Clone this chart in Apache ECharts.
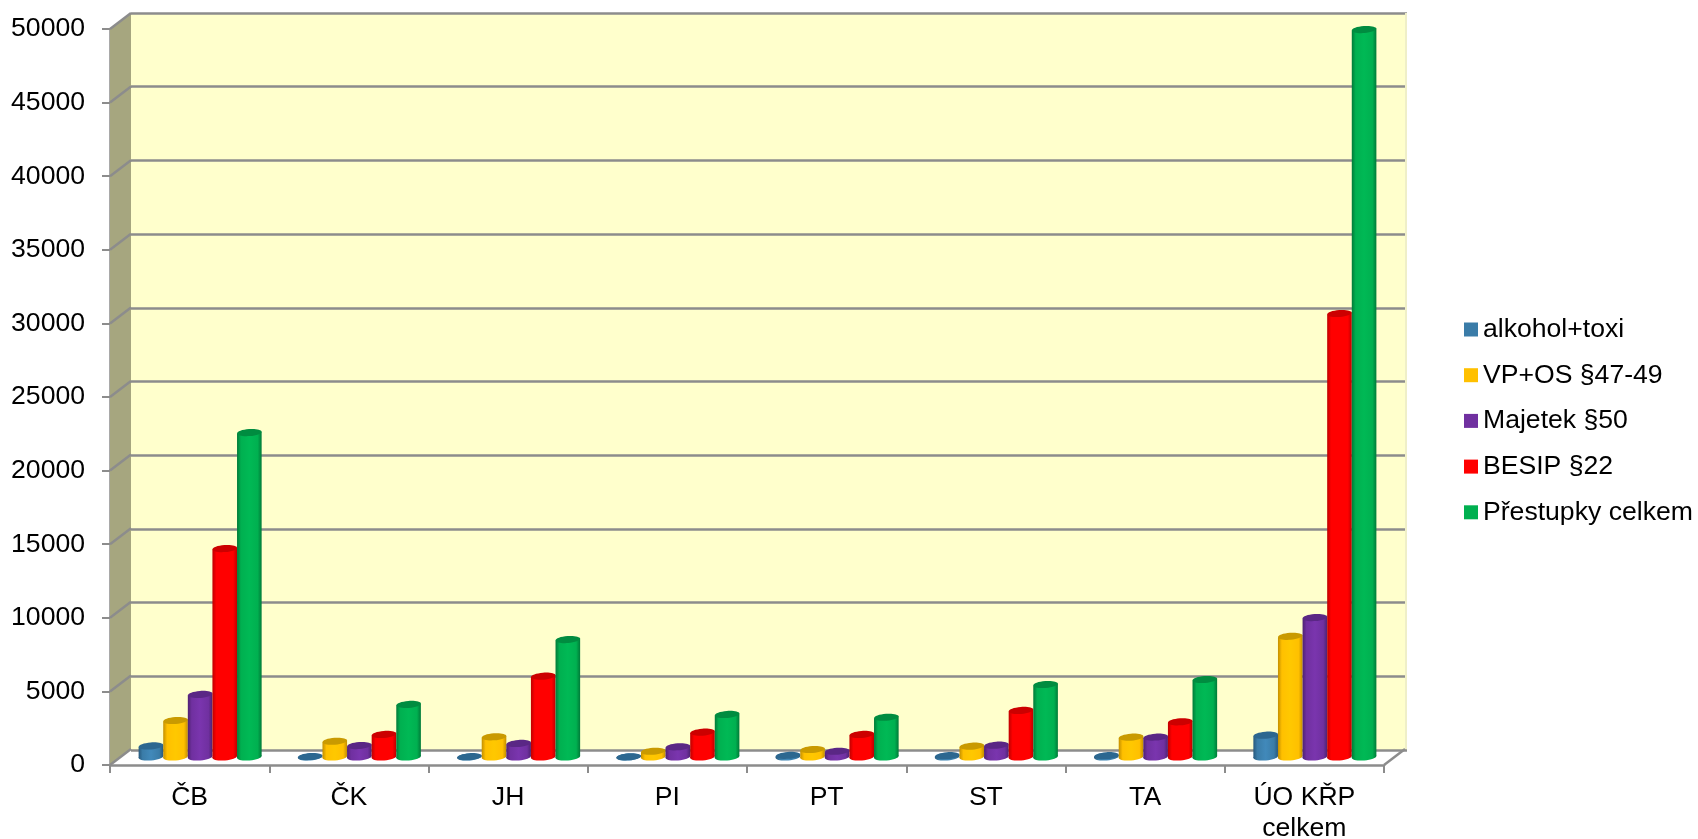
<!DOCTYPE html>
<html><head><meta charset="utf-8">
<style>html,body{margin:0;padding:0;background:#fff}#c{width:1698px;height:839px}</style>
<script src="https://cdn.jsdelivr.net/npm/echarts@6/dist/echarts.min.js"></script>
</head><body><div id="c"></div>
<script>
const categories = ['ČB','ČK','JH','PI','PT','ST','TA','ÚO KŘP\ncelkem'];
const seriesNames = ['alkohol+toxi','VP+OS §47-49','Majetek §50','BESIP §22','Přestupky celkem'];
const alkohol  = [750, 30, 20, 10, 110, 90, 90, 1480];
const vpOs     = [2480, 1070, 1370, 390, 510, 735, 1345, 8200];
const majetek  = [4250, 780, 920, 690, 390, 800, 1350, 9470];
const besip    = [14160, 1530, 5490, 1685, 1530, 3160, 2390, 30130];
const prestupky= [22040, 3570, 7980, 2890, 2700, 4925, 5265, 49420];
const yTicks = [0,5000,10000,15000,20000,25000,30000,35000,40000,45000,50000];
const allValues = [alkohol, vpOs, majetek, besip, prestupky];
const legendColors = ['#3A7CA8','#FFC000','#7030A0','#FF0000','#00B050'];
const edgeColors   = ['#27597D','#C48F00','#4E2272','#BE0000','#007A38'];
const lightColors  = ['#4189BA','#FFC800','#7A35AE','#FF0000','#00B955'];
const topColors    = ['#2C6790','#C99A00','#5A2785','#CC0000','#008C40'];

const AXIS = '#8C8C8C', FONT = '"Liberation Sans", Arial, sans-serif', FS = 26.6;
const DX = 21, DY = -16;          // depth of the 3D box
const BAR = 0.1545, RY = 3.5, TILT = 0.075;

function frameItem(params, api) {
  const cs = params.coordSys, v = api.value(0);
  const p = api.coord([0, v]);
  const x0 = cs.x, x1 = cs.x + cs.width, y = p[1];
  const kids = [];
  if (params.dataIndex === 0) {
    const top = cs.y;
    kids.push({type:'polygon', shape:{points:[[x0,top],[x0+DX,top+DY],[x0+DX,y+DY],[x0,y]]},
      style:{fill:'#A6A67F'}});
    kids.push({type:'line', shape:{x1:x1,y1:y,x2:x1+DX,y2:y+DY}, style:{stroke:AXIS,lineWidth:2.5}});
    kids.push({type:'line', shape:{x1:x1+DX+1,y1:top+DY,x2:x1+DX+1,y2:y+DY}, style:{stroke:'#EFEFC8',lineWidth:2}});
  }
  kids.push({type:'line', shape:{x1:x0,y1:y,x2:x0+DX,y2:y+DY}, style:{stroke:AXIS,lineWidth:2.5}});
  return {type:'group', children:kids};
}

function barItem(si) {
  return function (params, api) {
    const idx = api.value(0), val = api.value(1);
    const w = api.size([1,0])[0] * BAR, rx = w/2;
    const top = api.coord([idx, val]), base = api.coord([idx, 0]);
    const cx = top[0] + DX/2 + (si-2)*w;
    const yT = top[1] + DY/2, yB = base[1] + DY/2;
    const t = rx * Math.sin(TILT);
    const grad = {type:'linear',x:0,y:0,x2:1,y2:0,colorStops:[
      {offset:0,color:edgeColors[si]},{offset:.16,color:legendColors[si]},
      {offset:.5,color:lightColors[si]},{offset:.84,color:legendColors[si]},{offset:1,color:edgeColors[si]}]};
    return {type:'group', children:[
      {type:'ellipse', x:cx, y:yB, rotation:TILT, shape:{cx:0,cy:0,rx:rx,ry:RY}, style:{fill:grad}},
      {type:'polygon', shape:{points:[[cx-rx,yT+t],[cx+rx,yT-t],[cx+rx,yB-t],[cx-rx,yB+t]]}, style:{fill:grad}},
      {type:'ellipse', x:cx, y:yT, rotation:TILT, shape:{cx:0,cy:0,rx:rx,ry:RY}, style:{fill:topColors[si]}}
    ]};
  };
}

const chart = echarts.init(document.getElementById('c'), null, {renderer:'canvas'});
chart.setOption({
  animation:false,
  backgroundColor:'#fff',
  textStyle:{fontFamily:FONT},
  legend:{
    data:seriesNames, orient:'vertical', left:1459, top:311,
    icon:'rect', itemWidth:14, itemHeight:14, itemGap:18.7,
    textStyle:{fontFamily:FONT,fontSize:FS,color:'#000'}
  },
  grid:[
    {left:110, top:29, width:1274, height:736, show:false, outerBoundsMode:'none'},
    {left:131, top:13, width:1276, height:737, show:true, backgroundColor:'#FFFFCC', borderWidth:0, outerBoundsMode:'none'}
  ],
  xAxis:[
    {type:'category', data:categories, gridIndex:0,
     axisLine:{show:true,lineStyle:{color:AXIS,width:2.5}},
     axisTick:{show:true,length:8,interval:0,lineStyle:{color:AXIS,width:2}},
     axisLabel:{interval:0,color:'#000',fontSize:FS,margin:17,lineHeight:31,fontFamily:FONT},
     splitLine:{show:false}},
    {type:'category', data:categories, gridIndex:1, show:false}
  ],
  yAxis:[
    {type:'value', gridIndex:0, min:0, max:50000, interval:5000,
     axisLine:{show:true,lineStyle:{color:AXIS,width:2.5}},
     axisTick:{show:true,length:8,lineStyle:{color:AXIS,width:2}},
     axisLabel:{color:'#000',fontSize:FS,margin:25,padding:[7,0,0,0],fontFamily:FONT,formatter:v=>String(v)},
     splitLine:{show:false}},
    {type:'value', gridIndex:1, min:0, max:50000, interval:5000,
     axisLine:{show:false}, axisTick:{show:false}, axisLabel:{show:false},
     splitLine:{show:true,lineStyle:{color:AXIS,width:2.5}}}
  ],
  series:[
    {type:'custom', name:'frame', xAxisIndex:0, yAxisIndex:0, silent:true, z:1,
     clip:false, data:yTicks.map(v=>[v]), encode:{y:0}, renderItem:frameItem},
    ...seriesNames.map((name,si)=>({
      type:'custom', name, xAxisIndex:0, yAxisIndex:0, z:3+si, clip:false,
      itemStyle:{color:legendColors[si]},
      data:allValues[si].map((v,i)=>[i,v]), encode:{x:0,y:1},
      renderItem:barItem(si)
    }))
  ]
});
</script></body></html>
